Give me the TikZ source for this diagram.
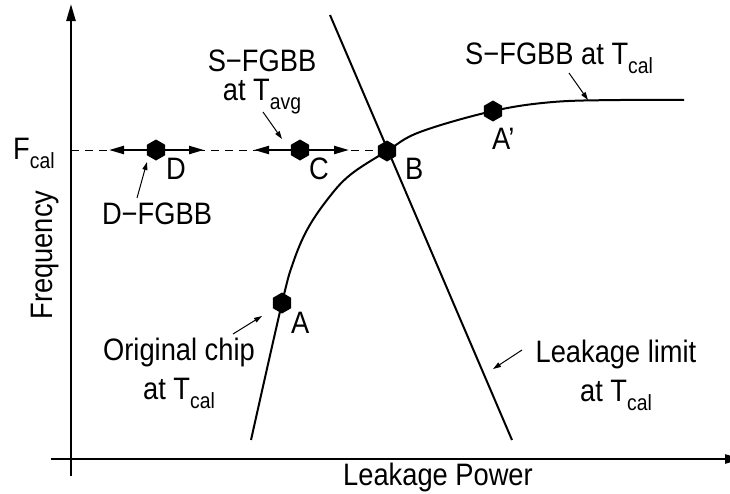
\documentclass[tikz,border=0pt]{standalone}
\usepackage{fontspec}
\setmainfont{Liberation Sans}[FakeStretch=0.88]
\usetikzlibrary{positioning, arrows.meta, shapes.geometric}

% lowered, smaller index text (T_cal, F_cal ...)
\newcommand{\lowtxt}[1]{\raisebox{-9pt}{\fontsize{22}{22}\selectfont #1}}

\begin{document}
\begin{tikzpicture}[
  x=1pt, y=-1pt,
  txt/.style={inner sep=0pt, font=\fontsize{31}{39}\selectfont, align=center},
  hexdot/.style={regular polygon, regular polygon sides=6, shape border rotate=30,
                 fill=black, inner sep=0pt, minimum size=21pt},
  axis/.style={line width=2.4pt, -{Triangle[length=17pt, width=9pt]}},
  curve/.style={line width=2pt},
  push/.style={line width=2.2pt, -{Triangle[length=15pt, width=8pt]}},
  pointer/.style={line width=1pt, -{Triangle[length=8pt, width=5pt]}}
]
  \useasboundingbox (0,0) rectangle (730,493);

  % axes
  \coordinate (ybot) at (71,476);
  \coordinate (ytop) at (71,4);
  \coordinate (xlft) at (51,459);
  \coordinate (xrgt) at (742,459);
  \draw[axis] (ybot) -- (ytop);
  \draw[axis] (xlft) -- (xrgt);

  % F_cal level
  \coordinate (fy) at (71,150);
  \coordinate (fB) at (387,150);
  \draw[line width=1pt, dash pattern=on 8pt off 6pt] (fy) -- (fB);

  % chip curve and leakage limit
  \draw[curve] plot[smooth, tension=0.6] coordinates {(251,440) (282,303) (293,263)
    (307,230) (327,200) (350,175) (387,151) (420,132) (493,111) (553,102)
    (620,100) (684,100)};
  \coordinate (lt) at (330,15);
  \coordinate (lb) at (512,440);
  \draw[curve] (lt) -- (lb);

  % operating points
  \coordinate (Dl) at (109,150);
  \coordinate (Dr) at (204,150);
  \coordinate (Cl) at (254,150);
  \coordinate (Cr) at (349,150);
  \node[hexdot] (D) at (156,150) {};
  \node[hexdot] (C) at (300,150) {};
  \node[hexdot] (B) at (387,151) {};
  \node[hexdot] (Ap) at (493,111) {};
  \node[hexdot] (A) at (282,303) {};
  \draw[push] (D) -- (Dl);
  \draw[push] (D) -- (Dr);
  \draw[push] (C) -- (Cl);
  \draw[push] (C) -- (Cr);

  % point names
  \node[txt, anchor=base west] (Dname) at (166,179) {D};
  \node[txt, anchor=base west] (Cname) at (309,179) {C};
  \node[txt, anchor=base west] (Bname) at (405,179) {B};
  \node[txt, anchor=base west] (Apname) at (492,149) {A’};
  \node[txt, anchor=base west] (Aname) at (291,333) {A};

  % axis labels
  \node[txt, anchor=base west] (fcal) at (13,159) {F\lowtxt{cal}};
  \node[txt, rotate=90] (freq) at (45,255) {Frequency};
  \node[txt, anchor=base] (power) at (438,485) {Leakage Power};

  % annotations
  \node[txt, anchor=base] (dfgbb) at (157,224) {D−FGBB};
  \node[txt, anchor=north, font=\fontsize{31}{29}\selectfont] (savg) at (262,50)
    {S−FGBB\\at T\lowtxt{avg}};
  \node[txt, anchor=base west] (scal) at (465,64) {S−FGBB at T\lowtxt{cal}};
  \node[txt, anchor=north] (orig) at (179,338) {Original chip\\at T\lowtxt{cal}};
  \node[txt, anchor=north] (limit) at (616,340) {Leakage limit\\at T\lowtxt{cal}};

  \coordinate (dt) at (137,198);  \coordinate (dh) at (147,162);
  \coordinate (ct) at (263,112);  \coordinate (ch) at (282,139);
  \coordinate (st) at (569,73);   \coordinate (sh) at (588,100);
  \coordinate (ot) at (233,334);  \coordinate (oh) at (262,316);
  \coordinate (lmt) at (522,350); \coordinate (lmh) at (493,369);
  \draw[pointer] (dt) -- (dh);
  \draw[pointer] (ct) -- (ch);
  \draw[pointer] (st) -- (sh);
  \draw[pointer] (ot) -- (oh);
  \draw[pointer] (lmt) -- (lmh);
\end{tikzpicture}
\end{document}
